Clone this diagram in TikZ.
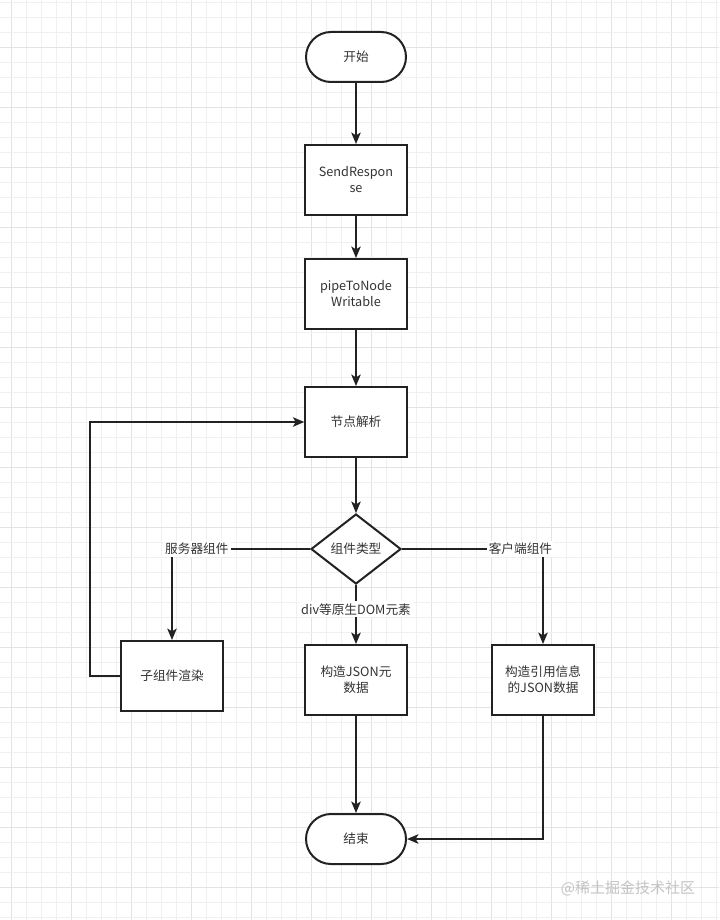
\documentclass[tikz,border=0pt]{standalone}
\usepackage{fontspec}
\setmainfont{Noto Sans CJK SC}
\usetikzlibrary{arrows.meta,shapes.geometric}
\definecolor{ln}{HTML}{222222}
\definecolor{tx}{HTML}{333333}
\definecolor{gminor}{HTML}{F0F0F0}
\definecolor{gmajor}{HTML}{E3E3E3}
\definecolor{wm}{HTML}{C4C4C4}
\tikzset{
  base/.style={draw=ln, line width=1.5pt, text=tx, align=center,
    font=\fontsize{9.5}{12}\selectfont, inner sep=2pt},
  terminal/.style={base, rounded corners=18.75pt, minimum width=75pt, minimum height=37.5pt},
  procbox/.style={base, rectangle, minimum width=75pt, minimum height=52.5pt, text width=72pt},
  decision/.style={base, diamond, aspect=1.286, minimum width=67.5pt, minimum height=52.5pt, inner sep=0pt},
  lbl/.style={fill=white, text=tx, font=\fontsize{9.5}{12}\selectfont, inner sep=1.5pt},
  arr/.style={draw=ln, line width=1.5pt, -{Stealth[length=8.5pt,width=7pt,inset=2pt]}},
  conn/.style={draw=ln, line width=1.5pt}
}
\begin{document}
\begin{tikzpicture}[x=0.75pt,y=-0.75pt]
\useasboundingbox (0,0) rectangle (719,920);
\fill[white] (0,0) rectangle (719,920);
% grid
\foreach \i in {0,...,47} {
  \pgfmathsetmacro{\gx}{11.5+15*\i}
  \pgfmathtruncatemacro{\mj}{mod(\i,4)}
  \ifnum\mj=0 \draw[gmajor,line width=0.75pt] (\gx,0) -- (\gx,920);
  \else \draw[gminor,line width=0.75pt] (\gx,0) -- (\gx,920); \fi
}
\foreach \j in {0,...,61} {
  \pgfmathsetmacro{\gy}{2.5+15*\j}
  \pgfmathtruncatemacro{\mj}{mod(\j+1,4)}
  \ifnum\mj=0 \draw[gmajor,line width=0.75pt] (0,\gy) -- (719,\gy);
  \else \draw[gminor,line width=0.75pt] (0,\gy) -- (719,\gy); \fi
}
% nodes
\node[terminal, fill=white] (start) at (356,57) {开始};
\node[procbox, fill=white] (send) at (356,180) {SendRespon\\se};
\node[procbox, fill=white] (pipe) at (356,294) {pipeToNode\\Writable};
\node[procbox, fill=white] (parse) at (356,422) {节点解析};
\node[decision, fill=white] (dia) at (356,549) {组件类型};
\node[procbox, fill=white] (sub) at (172,676) {子组件渲染};
\node[procbox, fill=white] (json) at (356,680) {构造JSON元\\数据};
\node[procbox, fill=white] (ref) at (543,680) {构造引用信息\\的JSON数据};
\node[terminal, fill=white] (end) at (356,839) {结束};
% connectors
\draw[arr] (start) -- (send);
\draw[arr] (send) -- (pipe);
\draw[arr] (pipe) -- (parse);
\draw[arr] (parse) -- (dia);
\draw[arr] (dia.west) -| node[lbl, pos=0.41] {服务器组件} (sub.north);
\draw[arr] (dia.east) -| node[lbl, pos=0.42] {客户端组件} (ref.north);
\draw[arr] (dia.south) -- node[lbl, pos=0.41] {div等原生DOM元素} (json.north);
\draw[arr] (sub.west) -- ++(-30,0) |- (parse.west);
\draw[arr] (json) -- (end);
\draw[arr] (ref.south) |- (end.east);
% watermark
\node[text=wm, font=\fontsize{11.25}{13}\selectfont, inner sep=0pt] (wmark) at (628,888) {@稀土掘金技术社区};
\end{tikzpicture}
\end{document}
